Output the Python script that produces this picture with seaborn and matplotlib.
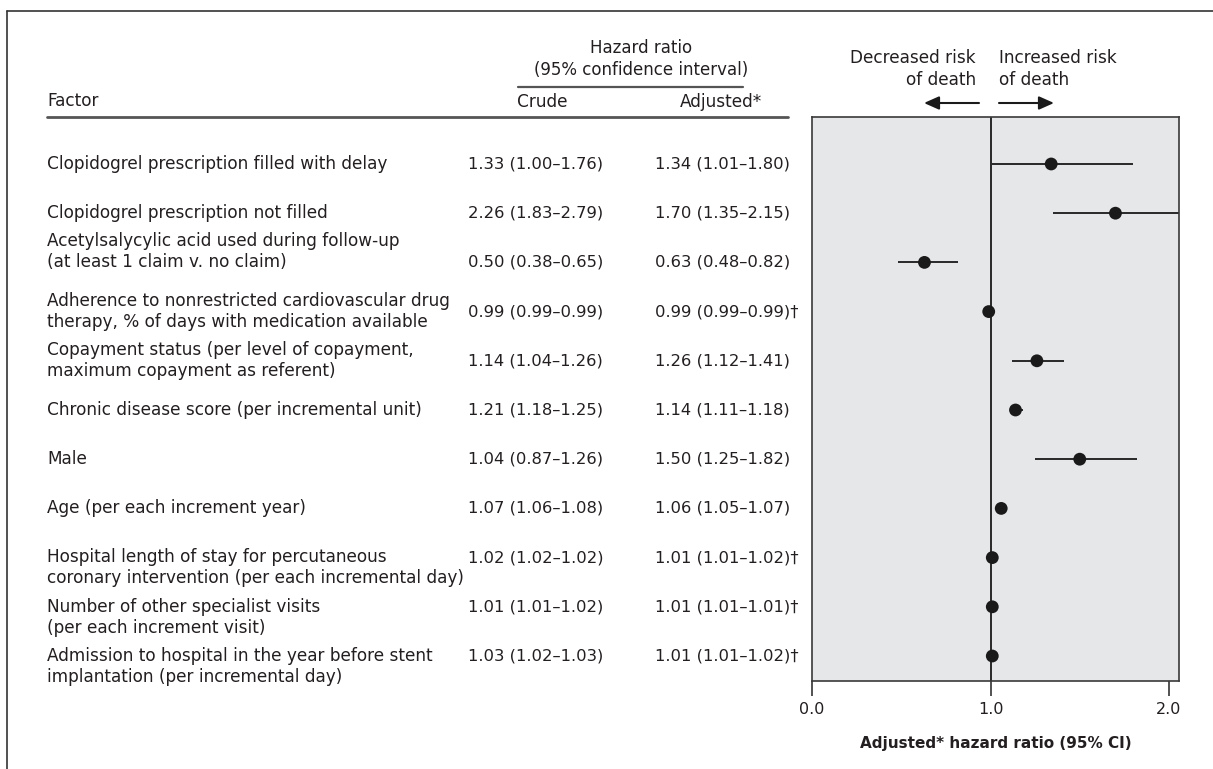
import numpy as np
import pandas as pd
import matplotlib
matplotlib.use("Agg")
import matplotlib.pyplot as plt
import matplotlib.transforms as mtransforms
from matplotlib.lines import Line2D
import seaborn as sns

# ---------------- data ----------------
factors = [
    "Clopidogrel prescription filled with delay",
    "Clopidogrel prescription not filled",
    "Acetylsalycylic acid used during follow-up\n(at least 1 claim v. no claim)",
    "Adherence to nonrestricted cardiovascular drug\ntherapy, % of days with medication available",
    "Copayment status (per level of copayment,\nmaximum copayment as referent)",
    "Chronic disease score (per incremental unit)",
    "Male",
    "Age (per each increment year)",
    "Hospital length of stay for percutaneous\ncoronary intervention (per each incremental day)",
    "Number of other specialist visits\n(per each increment visit)",
    "Admission to hospital in the year before stent\nimplantation (per incremental day)",
]
crude_hr = [1.33, 2.26, 0.50, 0.99, 1.14, 1.21, 1.04, 1.07, 1.02, 1.01, 1.03]
crude_lo = [1.00, 1.83, 0.38, 0.99, 1.04, 1.18, 0.87, 1.06, 1.02, 1.01, 1.02]
crude_hi = [1.76, 2.79, 0.65, 0.99, 1.26, 1.25, 1.26, 1.08, 1.02, 1.02, 1.03]
adj_hr = [1.34, 1.70, 0.63, 0.99, 1.26, 1.14, 1.50, 1.06, 1.01, 1.01, 1.01]
adj_lo = [1.01, 1.35, 0.48, 0.99, 1.12, 1.11, 1.25, 1.05, 1.01, 1.01, 1.01]
adj_hi = [1.80, 2.15, 0.82, 0.99, 1.41, 1.18, 1.82, 1.07, 1.02, 1.01, 1.02]
adj_dagger = [False, False, False, True, False, False, False, False, True, True, True]
x_ticks = [0.0, 1.0, 2.0]
x_tick_labels = ["0.0", "1.0", "2.0"]

df = pd.DataFrame({
    "factor": factors,
    "row": np.arange(len(factors)),
    "hr": adj_hr, "lo": adj_lo, "hi": adj_hi,
})

# ---------------- style ----------------
sns.set_style("white")
plt.rcParams["font.family"] = ["DejaVu Sans"]
TXT = "#231f20"
W, H = 1213, 769

fig = plt.figure(figsize=(W / 100, H / 100), dpi=100)

def fx(px):
    return px / W

def fy(py):
    return 1 - py / H

ax = fig.add_axes([fx(812), fy(681), fx(1179) - fx(812), fy(117) - fy(681)])
ax.set_facecolor("#e6e7e9")

ax.hlines(df["row"], df["lo"], df["hi"], color="#1a1a1a", lw=1.3, zorder=2)
ax.axvline(1.0, color="#1a1a1a", lw=1.3, zorder=2)
sns.scatterplot(data=df, x="hr", y="row", ax=ax, s=85, color="#1a1a1a",
                edgecolor="none", linewidth=0, zorder=3, legend=False)

ax.set_xlim(0, (1179 - 812) / 178.5)
ax.set_ylim(10.508, -0.955)
ax.set_yticks([])
ax.set_ylabel("")
ax.set_xticks(x_ticks)
ax.set_xticklabels(x_tick_labels, fontsize=11.5, color=TXT)
ax.tick_params(axis="x", direction="out", length=11, width=1.2, colors="#333333",
               labelcolor=TXT, pad=4, bottom=True)
ax.set_xlabel("Adjusted* hazard ratio (95% CI)", fontsize=11, fontweight="bold",
              color=TXT, labelpad=14)
for sp in ax.spines.values():
    sp.set_visible(True)
    sp.set_color("#3a3a3a")
    sp.set_linewidth(1.2)

# ---------------- table text ----------------
trans = mtransforms.blended_transform_factory(fig.transFigure, ax.transData)
text_offsets = [0, 0, -0.22, 0, 0, 0, 0, 0, 0.21, 0.21, 0.21]
num_fs = 11.8
for i in range(len(factors)):
    fig.text(fx(47), i + text_offsets[i], factors[i], transform=trans, ha="left",
             va="center", fontsize=12.2, color=TXT, linespacing=1.22)
    ctext = f"{crude_hr[i]:.2f} ({crude_lo[i]:.2f}\u2013{crude_hi[i]:.2f})"
    atext = f"{adj_hr[i]:.2f} ({adj_lo[i]:.2f}\u2013{adj_hi[i]:.2f})" + ("\u2020" if adj_dagger[i] else "")
    fig.text(fx(468), i, ctext, transform=trans, ha="left", va="center",
             fontsize=num_fs, color=TXT)
    fig.text(fx(655), i, atext, transform=trans, ha="left", va="center",
             fontsize=num_fs, color=TXT)

# ---------------- headers ----------------
fig.text(fx(641), fy(48), "Hazard ratio", ha="center", va="center", fontsize=12, color=TXT)
fig.text(fx(641), fy(70), "(95% confidence interval)", ha="center", va="center", fontsize=12, color=TXT)
fig.add_artist(Line2D([fx(518), fx(743)], [fy(87), fy(87)], color="#555555", lw=1.6))
fig.text(fx(47), fy(101), "Factor", ha="left", va="center", fontsize=12.2, color=TXT)
fig.text(fx(542), fy(102), "Crude", ha="center", va="center", fontsize=12.2, color=TXT)
fig.text(fx(762), fy(102), "Adjusted*", ha="right", va="center", fontsize=12.2, color=TXT)
fig.add_artist(Line2D([fx(47), fx(788)], [fy(117), fy(117)], color="#555555", lw=2.0))

fig.text(fx(976), fy(58), "Decreased risk", ha="right", va="center", fontsize=12.2, color=TXT)
fig.text(fx(976), fy(80), "of death", ha="right", va="center", fontsize=12.2, color=TXT)
fig.text(fx(999), fy(58), "Increased risk", ha="left", va="center", fontsize=12.2, color=TXT)
fig.text(fx(999), fy(80), "of death", ha="left", va="center", fontsize=12.2, color=TXT)

arrow_kw = dict(arrowstyle="-|>,head_length=0.9,head_width=0.4", color="#1a1a1a",
                lw=1.5, shrinkA=0, shrinkB=0, mutation_scale=10)
ax.annotate("", xy=(fx(924), fy(103)), xytext=(fx(979), fy(103)),
            xycoords="figure fraction", textcoords="figure fraction",
            arrowprops=arrow_kw, annotation_clip=False)
ax.annotate("", xy=(fx(1054), fy(103)), xytext=(fx(999), fy(103)),
            xycoords="figure fraction", textcoords="figure fraction",
            arrowprops=arrow_kw, annotation_clip=False)

# ---------------- frame ----------------
fig.add_artist(Line2D([fx(7), 1.0], [fy(11), fy(11)], color="#333333", lw=1.2))
fig.add_artist(Line2D([fx(7), fx(7)], [fy(11), 0.0], color="#333333", lw=1.2))

fig.savefig("out.png", dpi=100, facecolor="white")
